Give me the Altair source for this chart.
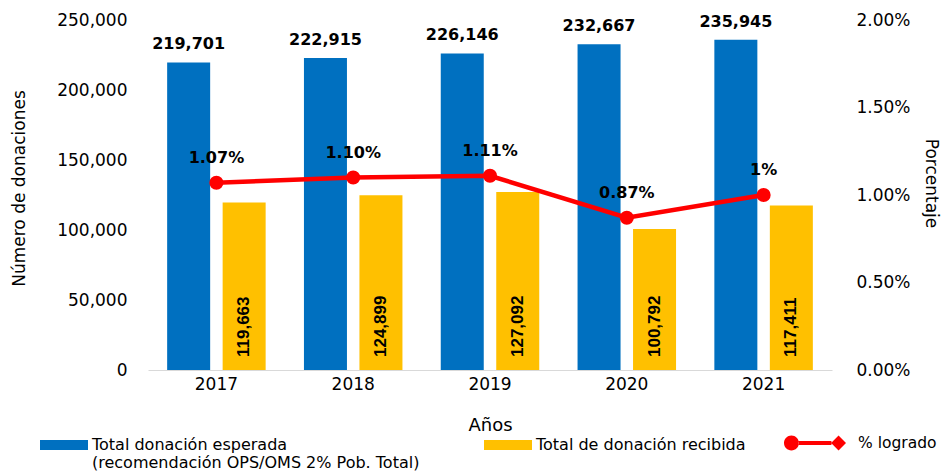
import altair as alt
import pandas as pd

years = ["2017", "2018", "2019", "2020", "2021"]
esperada = [219701, 222915, 226146, 232667, 235945]
recibida = [119663, 124899, 127092, 100792, 117411]
pct = [0.0107, 0.0110, 0.0111, 0.0087, 0.0100]
pct_labels = ["1.07%", "1.10%", "1.11%", "0.87%", "1%"]
series = ["Total donación esperada|(recomendación OPS/OMS 2% Pob. Total)",
          "Total de donación recibida| "]
line_name = "% logrado"
bar_colors = ["#0070C0", "#FFC000"]
line_color = "#FF0000"

bars_df = pd.DataFrame({
    "year": years * 2,
    "serie": [series[0]] * len(years) + [series[1]] * len(years),
    "value": esperada + recibida,
})
line_df = pd.DataFrame({"year": years, "pct": pct, "label": pct_labels,
                        "serie": [line_name] * len(years)})

FONT = "DejaVu Sans"

x = alt.X("year:N", sort=years,
          scale=alt.Scale(paddingInner=0.28, paddingOuter=0.14),
          axis=alt.Axis(title="Años", labelAngle=0, labelFont=FONT, labelFontSize=17,
                        labelColor="#000000", labelPadding=6, ticks=False,
                        domainColor="#D9D9D9", domainWidth=1,
                        titleFont=FONT, titleFontSize=18, titleFontWeight="normal",
                        titleColor="#000000", titleY=55, titleBaseline="middle"))
xoff = alt.XOffset("serie:N", sort=series,
                   scale=alt.Scale(domain=series, paddingInner=0.225, paddingOuter=0))

y_axis = alt.Axis(title="Número de donaciones", values=[0, 50000, 100000, 150000, 200000, 250000],
                  format=",d", labelFont=FONT, labelFontSize=17, labelColor="#000000",
                  labelPadding=21, ticks=False, domain=False, grid=False,
                  titleFont=FONT, titleFontSize=17, titleFontWeight="normal", titleColor="#000000",
                  titleX=-129, titleY=168, titleAngle=270, titleAlign="center",
                  titleBaseline="middle")
y_scale = alt.Scale(domain=[0, 250000])

bars = alt.Chart(bars_df).mark_bar().encode(
    x=x, xOffset=xoff,
    y=alt.Y("value:Q", scale=y_scale, axis=y_axis),
    color=alt.Color("serie:N", sort=series,
                    scale=alt.Scale(domain=series, range=bar_colors),
                    legend=alt.Legend(title=None, orient="none", legendX=-108, legendY=401,
                                      direction="horizontal",
                                      symbolType="M-1,-0.21L1,-0.21L1,0.21L-1,0.21Z",
                                      symbolSize=2304, symbolStrokeWidth=0,
                                      labelExpr="split(datum.label, '|')",
                                      labelFont=FONT, labelFontSize=16, labelColor="#000000",
                                      labelLimit=600, labelOffset=4, columnPadding=64)),
)

blue_text = alt.Chart(bars_df).transform_filter(
    alt.datum.serie == series[0]
).mark_text(font=FONT, fontWeight="bold", fontSize=16, dy=-13, baseline="alphabetic",
            color="#000000").encode(
    x=x, xOffset=xoff,
    y=alt.Y("value:Q", scale=y_scale, axis=y_axis),
    text=alt.Text("value:Q", format=",d"),
)

yellow_text = alt.Chart(bars_df).transform_filter(
    alt.datum.serie == series[1]
).transform_calculate(base="0").mark_text(
    font="Liberation Sans",
    fontWeight="bold", fontSize=17, angle=270, align="left", baseline="middle",
    dx=13, color="#000000").encode(
    x=x, xOffset=xoff,
    y=alt.Y("base:Q", scale=y_scale, axis=y_axis),
    text=alt.Text("value:Q", format=",d"),
)

bar_layer = alt.layer(bars, blue_text, yellow_text)

y2_scale = alt.Scale(domain=[0, 0.02])
y2_axis = alt.Axis(orient="right", title="Porcentaje", values=[0, 0.005, 0.01, 0.015, 0.02],
                   format=".2%", labelFont=FONT, labelFontSize=17, labelColor="#000000",
                   labelPadding=24, ticks=False, domain=False, grid=False,
                   titleFont=FONT, titleFontSize=17, titleFontWeight="normal",
                   titleColor="#000000", titleX=93, titleY=163, titleAngle=90,
                   titleAlign="center", titleBaseline="alphabetic")
y2 = alt.Y("pct:Q", scale=y2_scale, axis=y2_axis)

legend_symbol = ("M-1,0A0.24,0.24 0 1,0 -0.52,0A0.24,0.24 0 1,0 -1,0Z"
                 "M-0.53,-0.065L0.53,-0.065L0.53,0.065L-0.53,0.065Z"
                 "M0.52,0L0.76,-0.24L1,0L0.76,0.24Z")

line = alt.Chart(line_df).mark_line(color=line_color, strokeWidth=4.5).encode(x=x, y=y2)
points = alt.Chart(line_df).mark_point(filled=True, size=200, opacity=1, shape="circle").encode(
    x=x, y=y2,
    color=alt.Color("serie:N", scale=alt.Scale(domain=[line_name], range=[line_color]),
                    legend=alt.Legend(title=None, orient="none", legendX=636, legendY=392,
                                      symbolType=legend_symbol, symbolSize=3844,
                                      symbolStrokeWidth=0, symbolOpacity=1,
                                      labelFont=FONT, labelFontSize=15.5, labelColor="#000000",
                                      labelOffset=12)),
)
pct_text = alt.Chart(line_df).mark_text(font=FONT, fontWeight="bold", fontSize=16, dy=-20,
                                        baseline="alphabetic", color="#000000").encode(
    x=x, y=y2, text="label:N")

line_layer = alt.layer(line, points, pct_text)

chart = alt.layer(bar_layer, line_layer).resolve_scale(
    y="independent", color="independent"
).properties(
    width=684, height=350,
    autosize=alt.AutoSizeParams(type="none"),
    padding={"left": 140, "top": 12, "right": 111, "bottom": 101},
).configure_view(stroke=None).configure_axis(grid=False)

chart.save("out.html", embed_options={"renderer": "svg", "actions": False})
